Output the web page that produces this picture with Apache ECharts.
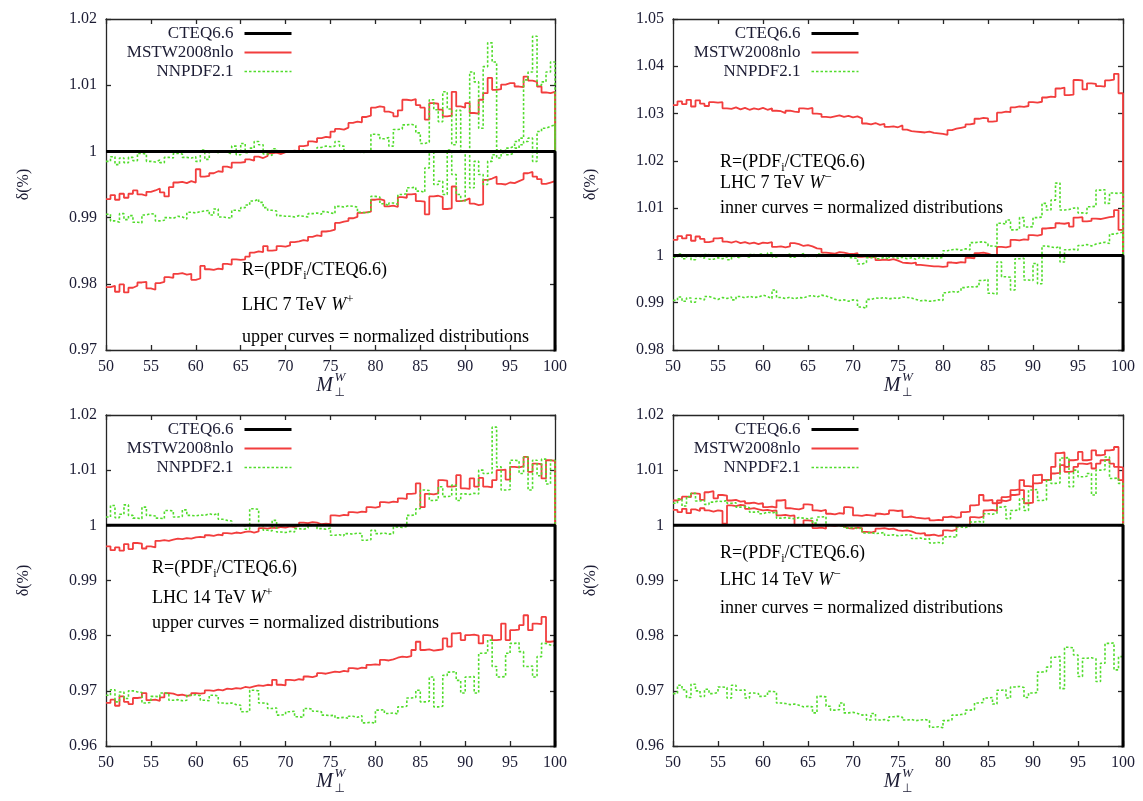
<!DOCTYPE html>
<html><head><meta charset="utf-8">
<script src="https://cdn.jsdelivr.net/npm/echarts@6/dist/echarts.min.js"></script>
<style>html,body{margin:0;padding:0;background:#fff}#c{width:1143px;height:801px}</style>
</head><body><div id="c"></div>
<script>
// ---- binning: 100 bins of 0.5 from 50 to 100 ----
const X_START = 50, BIN = 0.5, X_END = 100;
const xTickStep = 5;
const legendNames = ['CTEQ6.6', 'MSTW2008nlo', 'NNPDF2.1'];

// CTEQ6.6 reference (ratio to itself)
const cteq = [1,1,1,1,1,1,1,1,1,1, 1,1,1,1,1,1,1,1,1,1, 1,1,1,1,1,1,1,1,1,1, 1,1,1,1,1,1,1,1,1,1, 1,1,1,1,1,1,1,1,1,1,
              1,1,1,1,1,1,1,1,1,1, 1,1,1,1,1,1,1,1,1,1, 1,1,1,1,1,1,1,1,1,1, 1,1,1,1,1,1,1,1,1,1, 1,1,1,1,1,1,1,1,1,1];

// ---- Panel 1: LHC 7 TeV W+ ----
const p1_mstw_upper = [
0.9928,0.9934,0.9927,0.9936,0.9930,0.9936,0.9941,0.9935,0.9933,0.9939,
0.9941,0.9944,0.9938,0.9932,0.9946,0.9953,0.9954,0.9952,0.9955,0.9953,
0.9973,0.9962,0.9963,0.9967,0.9970,0.9969,0.9977,0.9975,0.9983,0.9983,
0.9984,0.9988,0.9986,0.9992,0.9990,0.9993,0.9997,0.9998,0.9996,0.9999,
1.0000,1.0001,1.0000,1.0008,1.0009,1.0015,1.0014,1.0020,1.0022,1.0021,
1.0030,1.0034,1.0033,1.0036,1.0043,1.0045,1.0044,1.0052,1.0054,1.0066,
1.0068,1.0067,1.0060,1.0058,1.0053,1.0062,1.0078,1.0077,1.0079,1.0070,
1.0066,1.0048,1.0073,1.0072,1.0063,1.0053,1.0054,1.0090,1.0068,1.0066,
1.0073,1.0058,1.0057,1.0078,1.0088,1.0111,1.0093,1.0094,1.0101,1.0103,
1.0103,1.0098,1.0097,1.0113,1.0107,1.0105,1.0098,1.0089,1.0088,1.0090];
const p1_mstw_lower = [
0.9795,0.9797,0.9788,0.9799,0.9787,0.9794,0.9797,0.9802,0.9803,0.9793,
0.9791,0.9801,0.9803,0.9810,0.9809,0.9815,0.9816,0.9814,0.9815,0.9806,
0.9808,0.9827,0.9822,0.9821,0.9823,0.9822,0.9830,0.9829,0.9837,0.9836,
0.9837,0.9841,0.9847,0.9849,0.9848,0.9857,0.9850,0.9851,0.9857,0.9856,
0.9858,0.9863,0.9864,0.9866,0.9865,0.9871,0.9873,0.9872,0.9879,0.9880,
0.9882,0.9892,0.9894,0.9895,0.9899,0.9901,0.9907,0.9908,0.9909,0.9927,
0.9928,0.9926,0.9917,0.9918,0.9916,0.9931,0.9930,0.9935,0.9936,0.9925,
0.9924,0.9905,0.9932,0.9933,0.9931,0.9913,0.9914,0.9947,0.9925,0.9926,
0.9929,0.9921,0.9919,0.9920,0.9957,0.9959,0.9962,0.9951,0.9950,0.9953,
0.9952,0.9955,0.9958,0.9967,0.9969,0.9962,0.9958,0.9951,0.9953,0.9955];
const p1_nnpdf_upper = [
0.9985,0.9992,0.9980,0.9990,0.9983,0.9991,0.9986,0.9997,0.9996,0.9985,
0.9984,0.9987,0.9983,0.9991,0.9990,0.9997,0.9996,0.9991,0.9990,0.9992,
0.9985,1.0002,0.9988,1.0000,0.9998,1.0001,0.9999,0.9996,1.0008,0.9995,
1.0012,0.9998,1.0005,1.0015,1.0010,0.9996,0.9994,1.0004,1.0000,0.9999,
1.0001,0.9999,1.0000,1.0002,1.0000,0.9999,1.0001,1.0006,1.0008,1.0007,
1.0008,1.0015,1.0008,1.0000,0.9999,1.0001,0.9998,0.9999,1.0000,1.0026,
1.0025,1.0019,1.0021,1.0008,1.0033,1.0034,1.0040,1.0041,1.0039,1.0028,
1.0012,1.0014,1.0078,1.0063,1.0045,1.0090,1.0064,1.0010,1.0062,1.0001,
1.0000,1.0120,1.0105,1.0035,1.0128,1.0164,1.0135,1.0002,0.9998,1.0005,
1.0008,1.0015,1.0020,1.0108,1.0120,1.0174,1.0100,1.0105,1.0120,1.0135];
const p1_nnpdf_lower = [
0.9905,0.9895,0.9893,0.9906,0.9897,0.9903,0.9893,0.9892,0.9904,0.9906,
0.9905,0.9895,0.9896,0.9900,0.9899,0.9902,0.9901,0.9898,0.9908,0.9907,
0.9909,0.9910,0.9911,0.9904,0.9913,0.9901,0.9900,0.9899,0.9911,0.9910,
0.9915,0.9919,0.9925,0.9928,0.9923,0.9915,0.9911,0.9910,0.9903,0.9902,
0.9902,0.9901,0.9903,0.9902,0.9901,0.9906,0.9907,0.9905,0.9909,0.9907,
0.9906,0.9917,0.9916,0.9918,0.9917,0.9916,0.9908,0.9907,0.9909,0.9932,
0.9931,0.9921,0.9918,0.9922,0.9920,0.9935,0.9936,0.9945,0.9946,0.9940,
0.9938,0.9975,1.0000,0.9950,0.9955,0.9935,1.0002,0.9965,0.9935,0.9925,
1.0000,0.9945,0.9985,0.9965,0.9950,0.9985,0.9995,0.9990,1.0000,0.9995,
0.9998,1.0005,1.0010,1.0015,1.0020,0.9985,1.0030,1.0035,1.0038,1.0040];

// ---- Panel 2: LHC 7 TeV W- ----
const p2_mstw_upper = [
1.0318,1.0326,1.0320,1.0329,1.0315,1.0328,1.0321,1.0316,1.0324,1.0323,
1.0324,1.0311,1.0310,1.0313,1.0309,1.0312,1.0308,1.0311,1.0309,1.0312,
1.0308,1.0311,1.0306,1.0305,1.0301,1.0306,1.0304,1.0303,1.0311,1.0310,
1.0312,1.0300,1.0299,1.0293,1.0292,1.0294,1.0296,1.0293,1.0295,1.0292,
1.0294,1.0290,1.0279,1.0277,1.0280,1.0276,1.0278,1.0272,1.0273,1.0271,
1.0275,1.0266,1.0263,1.0262,1.0261,1.0260,1.0262,1.0259,1.0258,1.0257,
1.0255,1.0265,1.0268,1.0270,1.0272,1.0277,1.0279,1.0289,1.0291,1.0290,
1.0283,1.0284,1.0302,1.0304,1.0303,1.0313,1.0315,1.0314,1.0316,1.0324,
1.0323,1.0325,1.0334,1.0336,1.0335,1.0353,1.0355,1.0339,1.0340,1.0371,
1.0370,1.0351,1.0364,1.0363,1.0358,1.0357,1.0370,1.0372,1.0384,1.0343];
const p2_mstw_lower = [
1.0033,1.0041,1.0036,1.0043,1.0031,1.0040,1.0035,1.0028,1.0030,1.0036,
1.0037,1.0029,1.0027,1.0030,1.0026,1.0028,1.0025,1.0027,1.0024,1.0027,
1.0026,1.0028,1.0018,1.0019,1.0017,1.0019,1.0026,1.0024,1.0020,1.0022,
1.0019,1.0015,1.0014,1.0006,1.0005,1.0004,1.0007,1.0006,1.0004,1.0003,
1.0005,0.9997,0.9998,0.9996,0.9997,0.9990,0.9991,0.9990,0.9992,0.9989,
0.9985,0.9984,0.9983,0.9985,0.9980,0.9979,0.9978,0.9977,0.9977,0.9976,
0.9977,0.9985,0.9984,0.9986,0.9985,0.9995,0.9994,1.0005,1.0006,1.0004,
1.0000,1.0001,1.0018,1.0017,1.0019,1.0033,1.0032,1.0034,1.0033,1.0043,
1.0042,1.0044,1.0057,1.0058,1.0059,1.0068,1.0067,1.0069,1.0061,1.0080,
1.0081,1.0072,1.0073,1.0078,1.0077,1.0079,1.0081,1.0082,1.0096,1.0054];
const p2_nnpdf_upper = [
0.9996,1.0003,0.9993,1.0000,0.9991,0.9998,0.9994,1.0002,0.9992,0.9995,
0.9993,0.9997,0.9991,0.9998,0.9994,1.0000,0.9996,1.0002,0.9998,1.0003,
0.9999,1.0005,0.9997,1.0001,0.9999,1.0003,0.9996,1.0000,1.0004,0.9998,
1.0001,0.9997,1.0003,1.0000,0.9998,1.0002,0.9999,0.9997,1.0001,0.9995,
0.9994,0.9982,0.9985,0.9995,0.9998,0.9993,0.9996,0.9992,0.9997,0.9994,
0.9996,0.9993,0.9995,0.9992,0.9996,0.9994,0.9993,0.9995,0.9994,0.9996,
1.0010,1.0012,1.0013,1.0011,1.0014,1.0012,1.0027,1.0028,1.0029,1.0026,
1.0020,1.0019,1.0068,1.0066,1.0075,1.0054,1.0055,1.0080,1.0060,1.0061,
1.0080,1.0081,1.0110,1.0096,1.0117,1.0153,1.0096,1.0097,1.0100,1.0101,
1.0090,1.0089,1.0103,1.0104,1.0138,1.0139,1.0110,1.0132,1.0131,1.0133];
const p2_nnpdf_lower = [
0.9905,0.9912,0.9903,0.9910,0.9901,0.9909,0.9906,0.9913,0.9910,0.9907,
0.9911,0.9909,0.9912,0.9906,0.9913,0.9910,0.9914,0.9911,0.9912,0.9916,
0.9913,0.9909,0.9927,0.9911,0.9909,0.9912,0.9908,0.9911,0.9910,0.9914,
0.9915,0.9912,0.9916,0.9914,0.9911,0.9907,0.9905,0.9906,0.9903,0.9906,
0.9905,0.9891,0.9888,0.9907,0.9910,0.9909,0.9911,0.9908,0.9910,0.9909,
0.9912,0.9911,0.9910,0.9907,0.9904,0.9905,0.9903,0.9904,0.9906,0.9905,
0.9921,0.9924,0.9922,0.9925,0.9932,0.9934,0.9933,0.9935,0.9947,0.9949,
0.9920,0.9918,0.9986,0.9955,0.9954,0.9927,0.9993,0.9994,0.9948,0.9947,
0.9983,0.9940,1.0020,1.0018,1.0016,1.0019,0.9986,1.0012,1.0013,1.0011,
1.0021,1.0023,1.0020,1.0024,1.0026,1.0028,1.0025,1.0045,1.0047,1.0049];

// ---- Panel 3: LHC 14 TeV W+ ----
const p3_mstw_upper = [
0.9962,0.9955,0.9960,0.9954,0.9966,0.9957,0.9968,0.9967,0.9958,0.9962,
0.9960,0.9972,0.9973,0.9972,0.9974,0.9976,0.9975,0.9977,0.9976,0.9978,
0.9979,0.9978,0.9982,0.9981,0.9983,0.9982,0.9986,0.9985,0.9987,0.9986,
0.9988,0.9989,0.9987,0.9989,0.9995,0.9994,0.9996,0.9995,0.9997,0.9996,
0.9998,0.9997,0.9999,1.0005,1.0004,1.0006,1.0005,1.0002,1.0003,1.0002,
1.0018,1.0017,1.0019,1.0018,1.0024,1.0023,1.0025,1.0024,1.0033,1.0032,
1.0034,1.0042,1.0041,1.0043,1.0042,1.0049,1.0048,1.0057,1.0058,1.0076,
1.0033,1.0057,1.0056,1.0058,1.0082,1.0081,1.0070,1.0071,1.0091,1.0067,
1.0066,1.0085,1.0070,1.0086,1.0070,1.0069,1.0082,1.0100,1.0101,1.0083,
1.0106,1.0105,1.0107,1.0124,1.0097,1.0112,1.0111,1.0085,1.0118,1.0117];
const p3_mstw_lower = [
0.9678,0.9684,0.9673,0.9690,0.9680,0.9676,0.9687,0.9688,0.9696,0.9683,
0.9684,0.9682,0.9688,0.9696,0.9695,0.9692,0.9693,0.9691,0.9692,0.9696,
0.9695,0.9696,0.9701,0.9700,0.9702,0.9701,0.9704,0.9703,0.9705,0.9704,
0.9707,0.9706,0.9708,0.9710,0.9709,0.9711,0.9710,0.9720,0.9711,0.9710,
0.9720,0.9719,0.9721,0.9720,0.9726,0.9725,0.9727,0.9732,0.9731,0.9733,
0.9735,0.9734,0.9736,0.9735,0.9741,0.9740,0.9742,0.9741,0.9747,0.9748,
0.9747,0.9756,0.9755,0.9757,0.9760,0.9762,0.9761,0.9763,0.9774,0.9789,
0.9774,0.9775,0.9773,0.9774,0.9775,0.9795,0.9780,0.9804,0.9805,0.9792,
0.9801,0.9802,0.9800,0.9786,0.9801,0.9800,0.9792,0.9793,0.9822,0.9792,
0.9810,0.9811,0.9819,0.9837,0.9810,0.9822,0.9821,0.9834,0.9789,0.9790];
const p3_nnpdf_upper = [
1.0015,1.0036,1.0014,1.0020,1.0037,1.0018,1.0013,1.0012,1.0033,1.0018,
1.0017,1.0013,1.0012,1.0027,1.0026,1.0015,1.0016,1.0028,1.0018,1.0017,
1.0019,1.0018,1.0021,1.0019,1.0022,1.0011,1.0009,1.0008,1.0000,1.0001,
0.9999,0.9993,1.0030,1.0029,1.0000,0.9991,0.9990,1.0009,0.9988,0.9987,
0.9989,0.9988,0.9994,0.9993,0.9995,1.0000,1.0001,0.9994,0.9993,0.9995,
0.9982,0.9983,0.9981,0.9985,0.9984,0.9986,0.9985,0.9973,0.9974,0.9991,
0.9985,0.9986,0.9984,0.9985,0.9997,0.9996,0.9998,1.0018,1.0019,1.0030,
1.0064,1.0063,1.0045,1.0046,1.0070,1.0052,1.0053,1.0073,1.0045,1.0057,
1.0056,1.0058,1.0057,1.0100,1.0094,1.0095,1.0178,1.0106,1.0064,1.0065,
1.0118,1.0117,1.0094,1.0124,1.0064,1.0118,1.0090,1.0120,1.0075,1.0118];
const p3_nnpdf_lower = [
0.9692,0.9702,0.9680,0.9698,0.9686,0.9700,0.9698,0.9697,0.9678,0.9679,
0.9690,0.9689,0.9696,0.9695,0.9683,0.9684,0.9682,0.9683,0.9692,0.9693,
0.9691,0.9683,0.9682,0.9692,0.9691,0.9678,0.9677,0.9678,0.9675,0.9674,
0.9662,0.9663,0.9701,0.9700,0.9678,0.9677,0.9668,0.9669,0.9656,0.9657,
0.9662,0.9663,0.9653,0.9652,0.9668,0.9667,0.9663,0.9662,0.9656,0.9655,
0.9656,0.9651,0.9652,0.9650,0.9654,0.9652,0.9655,0.9642,0.9643,0.9641,
0.9665,0.9666,0.9659,0.9660,0.9658,0.9671,0.9672,0.9687,0.9688,0.9701,
0.9680,0.9681,0.9725,0.9671,0.9672,0.9728,0.9734,0.9735,0.9719,0.9696,
0.9725,0.9726,0.9696,0.9768,0.9769,0.9792,0.9744,0.9725,0.9726,0.9768,
0.9786,0.9787,0.9771,0.9744,0.9745,0.9725,0.9762,0.9786,0.9783,0.9782];

// ---- Panel 4: LHC 14 TeV W- ----
const p4_mstw_upper = [
1.0045,1.0048,1.0052,1.0051,1.0058,1.0057,1.0046,1.0060,1.0062,1.0049,
1.0055,1.0054,1.0045,1.0046,1.0043,1.0044,1.0040,1.0041,1.0039,1.0040,
1.0033,1.0034,1.0032,1.0045,1.0046,1.0031,1.0030,1.0029,1.0031,1.0038,
1.0037,1.0027,1.0026,1.0028,1.0021,1.0020,1.0022,1.0021,1.0033,1.0032,
1.0018,1.0017,1.0019,1.0018,1.0017,1.0021,1.0020,1.0021,1.0027,1.0026,
1.0027,1.0015,1.0016,1.0014,1.0013,1.0012,1.0013,1.0009,1.0010,1.0009,
1.0015,1.0016,1.0014,1.0015,1.0024,1.0025,1.0036,1.0037,1.0055,1.0045,
1.0046,1.0040,1.0041,1.0051,1.0052,1.0064,1.0065,1.0082,1.0071,1.0070,
1.0091,1.0092,1.0082,1.0083,1.0106,1.0131,1.0132,1.0106,1.0118,1.0119,
1.0133,1.0118,1.0119,1.0136,1.0127,1.0128,1.0136,1.0137,1.0142,1.0082];
const p4_mstw_lower = [
1.0028,1.0024,1.0030,1.0022,1.0029,1.0026,1.0031,1.0027,1.0025,1.0027,
1.0026,1.0003,1.0036,1.0035,1.0037,1.0036,1.0030,1.0031,1.0029,1.0027,
1.0028,1.0026,1.0027,1.0018,1.0019,1.0017,1.0018,1.0000,1.0001,1.0009,
1.0008,0.9995,0.9996,0.9994,1.0000,0.9999,1.0001,0.9998,0.9995,0.9994,
0.9996,0.9995,0.9988,0.9987,0.9989,0.9994,0.9995,0.9993,0.9994,0.9991,
0.9990,0.9991,0.9989,0.9986,0.9985,0.9986,0.9982,0.9983,0.9981,0.9982,
0.9991,0.9990,0.9992,1.0000,1.0001,0.9999,1.0015,1.0014,1.0016,1.0027,
1.0028,1.0026,1.0045,1.0044,1.0046,1.0055,1.0056,1.0064,1.0040,1.0041,
1.0076,1.0077,1.0082,1.0083,1.0094,1.0095,1.0109,1.0097,1.0098,1.0106,
1.0112,1.0111,1.0113,1.0103,1.0112,1.0118,1.0119,1.0112,1.0106,1.0105];
const p4_nnpdf_upper = [
1.0040,1.0048,1.0035,1.0052,1.0058,1.0044,1.0046,1.0038,1.0042,1.0044,
1.0043,1.0045,1.0040,1.0041,1.0033,1.0034,1.0032,1.0024,1.0025,1.0021,
1.0024,1.0022,1.0025,1.0013,1.0014,1.0013,1.0012,1.0014,1.0013,1.0012,
1.0013,1.0004,1.0015,1.0016,1.0000,1.0001,0.9999,1.0000,0.9995,0.9996,
0.9994,0.9995,0.9986,0.9987,0.9985,0.9986,0.9987,0.9982,0.9983,0.9981,
0.9982,0.9983,0.9982,0.9976,0.9977,0.9975,0.9976,0.9968,0.9969,0.9967,
0.9979,0.9980,0.9978,0.9997,0.9996,0.9998,1.0006,1.0007,1.0005,1.0021,
1.0020,1.0022,1.0033,1.0034,1.0012,1.0027,1.0028,1.0048,1.0027,1.0064,
1.0065,1.0045,1.0046,1.0082,1.0076,1.0077,1.0122,1.0123,1.0070,1.0100,
1.0088,1.0089,1.0094,1.0055,1.0100,1.0101,1.0124,1.0085,1.0086,1.0076];
const p4_nnpdf_lower = [
0.9695,0.9710,0.9702,0.9688,0.9712,0.9700,0.9690,0.9703,0.9695,0.9697,
0.9707,0.9706,0.9687,0.9710,0.9701,0.9702,0.9687,0.9696,0.9695,0.9690,
0.9691,0.9699,0.9698,0.9678,0.9677,0.9675,0.9676,0.9674,0.9671,0.9672,
0.9671,0.9660,0.9690,0.9689,0.9672,0.9665,0.9666,0.9678,0.9660,0.9661,
0.9659,0.9656,0.9657,0.9647,0.9659,0.9647,0.9648,0.9646,0.9653,0.9654,
0.9652,0.9647,0.9648,0.9646,0.9647,0.9648,0.9646,0.9634,0.9635,0.9633,
0.9646,0.9647,0.9656,0.9657,0.9658,0.9665,0.9666,0.9678,0.9679,0.9687,
0.9688,0.9676,0.9701,0.9702,0.9687,0.9707,0.9708,0.9706,0.9688,0.9696,
0.9697,0.9734,0.9735,0.9743,0.9761,0.9762,0.9704,0.9779,0.9778,0.9765,
0.9726,0.9759,0.9760,0.9758,0.9717,0.9750,0.9786,0.9787,0.9738,0.9762];

// y-axis ranges per panel
const yRanges = [[0.97, 1.02], [0.98, 1.05], [0.96, 1.02], [0.96, 1.02]];
const yTickStep = 0.01;
const panelLabels = [
  ['LHC 7 TeV ', '+', 'upper curves = normalized distributions'],
  ['LHC 7 TeV ', '\u2212', 'inner curves = normalized distributions'],
  ['LHC 14 TeV ', '+', 'upper curves = normalized distributions'],
  ['LHC 14 TeV ', '\u2212', 'inner curves = normalized distributions']
];

// ---- layout / style (not data) ----
const FONT = 'Liberation Serif';
const TXT = '#1c1c34';
const RED = '#f23d3d', GREEN = '#52dc2c';
const grids = [
  {left: 106, top: 19, width: 449, height: 331},
  {left: 673, top: 19, width: 450, height: 331},
  {left: 106, top: 415, width: 449, height: 331},
  {left: 673, top: 415, width: 450, height: 331}
];
const annPos = [
  {x: 242, y: [270, 305, 337]},
  {x: 720, y: [162, 183, 208]},
  {x: 152, y: [568, 598, 623]},
  {x: 720, y: [553, 580, 608]}
];

function histPoints(vals) {
  const pts = vals.map((v, i) => [X_START + i * BIN, v]);
  pts.push([X_END, vals[vals.length - 1]]);
  pts.push([X_END, 0]);   // histogram closes down to the axis
  return pts;
}

const panelData = [
  [p1_mstw_upper, p1_mstw_lower, p1_nnpdf_upper, p1_nnpdf_lower],
  [p2_mstw_upper, p2_mstw_lower, p2_nnpdf_upper, p2_nnpdf_lower],
  [p3_mstw_upper, p3_mstw_lower, p3_nnpdf_upper, p3_nnpdf_lower],
  [p4_mstw_upper, p4_mstw_lower, p4_nnpdf_upper, p4_nnpdf_lower]
];

const axisLineStyle = {color: '#262626', width: 1.3};
const xAxis = [], yAxis = [], series = [], legend = [], graphic = [];

grids.forEach((g, k) => {
  const base = {gridIndex: k, type: 'value', min: X_START, max: X_END, interval: xTickStep,
    splitLine: {show: false},
    axisLine: {show: true, onZero: false, lineStyle: axisLineStyle},
    axisTick: {show: true, inside: true, length: 5, lineStyle: axisLineStyle}};
  xAxis.push(Object.assign({}, base, {position: 'bottom',
    axisLabel: {fontFamily: FONT, fontSize: 16, color: TXT, margin: 9}}));
  xAxis.push(Object.assign({}, base, {position: 'top', axisLabel: {show: false}}));
  const [ymin, ymax] = yRanges[k];
  const yb = {gridIndex: k, type: 'value', min: ymin, max: ymax, interval: yTickStep,
    splitLine: {show: false},
    axisLine: {show: true, onZero: false, lineStyle: axisLineStyle},
    axisTick: {show: true, inside: true, length: 5, lineStyle: axisLineStyle}};
  yAxis.push(Object.assign({}, yb, {position: 'left',
    axisLabel: {fontFamily: FONT, fontSize: 16, color: TXT, margin: 9,
      formatter: v => String(+v.toFixed(2))},
    name: '\u03b4(%)', nameLocation: 'middle', nameGap: 74, nameRotate: 90,
    nameTextStyle: {fontFamily: FONT, fontSize: 16, color: TXT}}));
  yAxis.push(Object.assign({}, yb, {position: 'right', axisLabel: {show: false}}));

  const xi = 2 * k, yi = 2 * k;
  const [mu, ml, nu, nl] = panelData[k];
  const red = {color: RED, width: 1.8};
  const green = {color: GREEN, width: 1.6, type: [2.5, 2]};
  const mk = (name, vals, ls, z) => ({
    type: 'line', name, xAxisIndex: xi, yAxisIndex: yi, data: histPoints(vals),
    step: 'end', symbol: 'none', showSymbol: false, clip: true, silent: true,
    lineStyle: ls, itemStyle: {color: ls.color}, z, animation: false
  });
  series.push(mk('MSTW2008nlo', mu, red, 3));
  series.push(mk('MSTW2008nlo', ml, red, 3));
  series.push(mk('NNPDF2.1', nu, green, 4));
  series.push(mk('NNPDF2.1', nl, green, 4));
  series.push(mk('CTEQ6.6', cteq, {color: '#000', width: 3}, 5));

  legend.push({
    data: legendNames, orient: 'vertical', align: 'right',
    right: 1143 - (g.left + 187), top: g.top + 6,
    itemWidth: 47, itemHeight: 14, itemGap: 2, padding: 0, selectedMode: false,
    lineStyle: {width: 'inherit'},
    itemStyle: {opacity: 0, borderWidth: 0},
    textStyle: {fontFamily: FONT, fontSize: 17, color: TXT, padding: [0, 6, 0, 0], lineHeight: 16}
  });

  const a = annPos[k];
  const rich = {
    n: {fontFamily: FONT, fontSize: 18, color: TXT, lineHeight: 24},
    it: {fontFamily: FONT, fontSize: 18, fontStyle: 'italic', color: TXT, lineHeight: 24},
    sb: {fontFamily: FONT, fontSize: 12, color: TXT, lineHeight: 13, verticalAlign: 'bottom'},
    sp: {fontFamily: FONT, fontSize: 13, color: TXT, lineHeight: 15, verticalAlign: 'top'}
  };
  const lab = panelLabels[k];
  const lines = ['{n|R=(PDF}{sb|i}{n|/CTEQ6.6)}',
                 '{n|' + lab[0] + '}{it|W}{sp|' + lab[1] + '}',
                 '{n|' + lab[2] + '}'];
  lines.forEach((t, j) => graphic.push({type: 'text', x: a.x, y: a.y[j], z: 10, silent: true,
    style: {text: t, rich, align: 'left', verticalAlign: 'middle'}}));

  // x-axis title  M_perp^W
  const cx = g.left + g.width / 2 - 6, cy = g.top + g.height + 36;
  graphic.push({type: 'text', x: cx, y: cy, silent: true,
    style: {text: 'M', font: 'italic 20px "Liberation Serif"', fill: TXT, align: 'center', verticalAlign: 'middle'}});
  graphic.push({type: 'text', x: cx + 10, y: cy - 8, silent: true,
    style: {text: 'W', font: 'italic 13px "Liberation Serif"', fill: TXT, align: 'left', verticalAlign: 'middle'}});
  graphic.push({type: 'text', x: cx + 10, y: cy + 7, silent: true,
    style: {text: '\u22a5', font: '12px "DejaVu Sans"', fill: TXT, align: 'left', verticalAlign: 'middle'}});
});

const chart = echarts.init(document.getElementById('c'), null, {renderer: 'canvas'});
chart.setOption({
  animation: false,
  backgroundColor: '#fff',
  grid: grids.map(g => Object.assign({containLabel: false}, g)),
  xAxis, yAxis, series, legend, graphic
});
</script></body></html>
